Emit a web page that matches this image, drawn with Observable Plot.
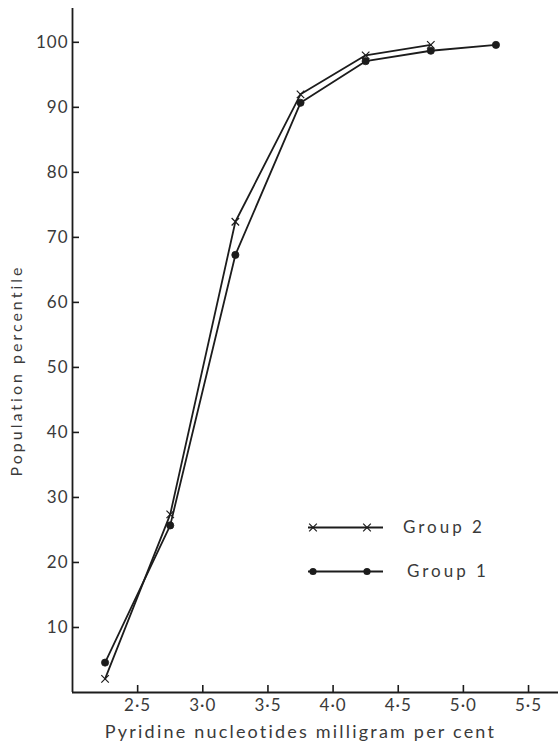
<!DOCTYPE html>
<html>
<head>
<meta charset="utf-8">
<script src="https://cdn.jsdelivr.net/npm/d3@7"></script>
<script src="https://cdn.jsdelivr.net/npm/@observablehq/plot@0.6"></script>
<style>
  html, body { margin: 0; padding: 0; background: #fff; }
  #chart { width: 558px; height: 747px; }
  svg text { font-family: Lato, "Open Sans", sans-serif; }
</style>
</head>
<body>
<div id="chart"></div>
<script>
// Data
const group1X = [2.25, 2.75, 3.25, 3.75, 4.25, 4.75, 5.25];
const group1Y = [4.6, 25.7, 67.3, 90.7, 97.1, 98.7, 99.6];
const group2X = [2.25, 2.75, 3.25, 3.75, 4.25, 4.75];
const group2Y = [2.1, 27.4, 72.4, 92.0, 98.0, 99.6];
const xTicks = [2.5, 3.0, 3.5, 4.0, 4.5, 5.0, 5.5];
const yTicks = [10, 20, 30, 40, 50, 60, 70, 80, 90, 100];
const xTitle = "Pyridine nucleotides milligram per cent";
const yTitle = "Population percentile";
const seriesNames = ["Group 2", "Group 1"];

const g1 = group1X.map((x, i) => ({x, y: group1Y[i]}));
const g2 = group2X.map((x, i) => ({x, y: group2Y[i]}));

const ink = "#1c1c1c";
const textInk = "#3a3a3a";

const plot = Plot.plot({
  width: 558,
  height: 747,
  marginLeft: 72,
  marginRight: 0,
  marginTop: 8,
  marginBottom: 55,
  style: {background: "#fff", color: textInk, fontFamily: "Lato, 'Open Sans', sans-serif"},
  x: {domain: [2, 5.73], label: null},
  y: {domain: [0, 105.2], label: null},
  marks: [
    Plot.ruleX([2], {stroke: ink, strokeWidth: 1.8}),
    Plot.ruleY([0], {stroke: ink, strokeWidth: 1.8}),
    Plot.axisX({ticks: xTicks, tickSize: 0, tickPadding: 6, fontSize: 17,
      tickFormat: d => d.toFixed(1).replace(".", "\u00B7"), label: null}),
    Plot.axisX({ticks: xTicks, tickSize: -7, text: null, stroke: ink, strokeWidth: 1.6, label: null}),
    Plot.axisY({ticks: yTicks, tickSize: 0, tickPadding: 4, fontSize: 17, label: null}),
    Plot.axisY({ticks: yTicks, tickSize: -7, text: null, stroke: ink, strokeWidth: 1.6, label: null}),
    Plot.line(g2, {x: "x", y: "y", stroke: ink, strokeWidth: 1.8}),
    Plot.line(g1, {x: "x", y: "y", stroke: ink, strokeWidth: 1.8}),
    Plot.dot(g2, {x: "x", y: "y", symbol: "times", r: 3.5, stroke: ink, strokeWidth: 1.2}),
    Plot.dot(g1, {x: "x", y: "y", r: 3.6, fill: ink, stroke: ink, strokeWidth: 0.8}),
    Plot.text([xTitle], {frameAnchor: "bottom", lineAnchor: "middle", textAnchor: "middle", dx: -15, dy: 40, fontSize: 18, fill: textInk}),
    Plot.text([yTitle], {frameAnchor: "left", lineAnchor: "middle", textAnchor: "middle", dx: -56, dy: 20, rotate: -90, fontSize: 16, fill: textInk})
  ]
});

document.getElementById("chart").appendChild(plot);

const svg = d3.select(plot);
// letter spacing to mimic the printed type
svg.selectAll("g[aria-label='x-axis tick label'] text, g[aria-label='y-axis tick label'] text").style("letter-spacing", "1px");
svg.selectAll("g[aria-label='text'] text").each(function() {
  const t = d3.select(this).text();
  d3.select(this).style("letter-spacing", t === xTitle ? "2.2px" : "3px");
});

// Legend
const leg = svg.append("g").attr("text-anchor", "start");
const legRows = [
  {name: seriesNames[0], y: 527.5, symbol: "times", tx: 403},
  {name: seriesNames[1], y: 571.5, symbol: "dot", tx: 407}
];
legRows.forEach(r => {
  leg.append("line").attr("x1", 308).attr("x2", 383).attr("y1", r.y).attr("y2", r.y)
    .attr("stroke", ink).attr("stroke-width", 1.8);
  [313, 367].forEach(cx => {
    if (r.symbol === "dot") {
      leg.append("circle").attr("cx", cx).attr("cy", r.y).attr("r", 3.6).attr("fill", ink);
    } else {
      leg.append("path").attr("d", d3.symbol(d3.symbolTimes, 40)()).attr("transform", `translate(${cx},${r.y})`)
        .attr("stroke", ink).attr("stroke-width", 1.2).attr("fill", "none");
    }
  });
  leg.append("text").attr("x", r.tx).attr("y", r.y).attr("dy", "0.35em").attr("text-anchor", "start")
    .attr("font-size", 17).attr("fill", textInk).style("letter-spacing", "3px").text(r.name);
});
</script>
</body>
</html>
